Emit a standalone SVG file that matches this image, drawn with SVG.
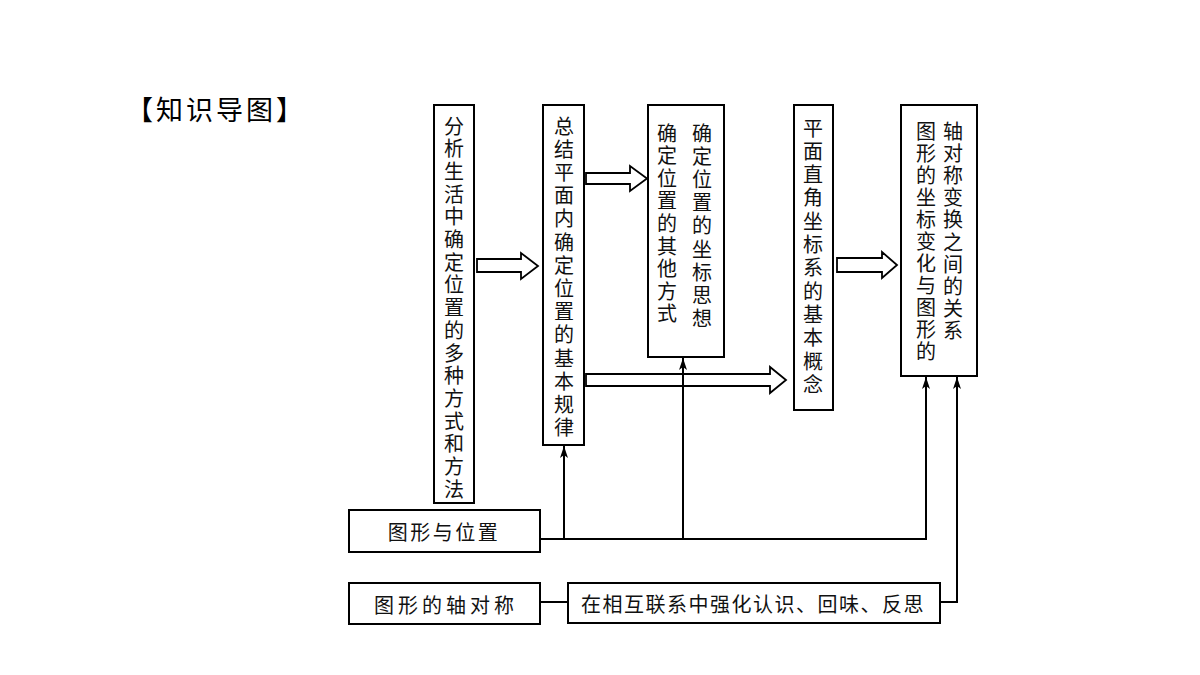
<svg xmlns="http://www.w3.org/2000/svg" width="1200" height="675" viewBox="0 0 1200 675">
<style>
  .box{fill:#fff;stroke:#000;stroke-width:2}
  .t{font-family:"Noto Sans CJK SC","Noto Sans",sans-serif;font-size:20px;fill:#111;text-anchor:middle;dominant-baseline:central}
  .ln{fill:none;stroke:#000;stroke-width:2}
  .hol{fill:#fff;stroke:#000;stroke-width:1.8;stroke-linejoin:miter}
  .title{font-family:"Noto Sans CJK SC","Noto Sans",sans-serif;font-size:27px;fill:#000}
</style>
<defs>
  <marker id="ah" markerUnits="userSpaceOnUse" viewBox="0 0 12 8" refX="12" refY="4" markerWidth="12" markerHeight="8" orient="auto">
    <path d="M0,0 L12,4 L0,8 L3,4 z" fill="#000"/>
  </marker>
</defs>
<rect width="1200" height="675" fill="#fff"/>
<text class="title" x="126" y="120" letter-spacing="3">【知识导图】</text>

<g id="connectors">
  <polygon class="hol" points="477,259 521,259 521,253 538,266 521,279 521,272 477,272"/>
  <polygon class="hol" points="586,173 630,173 630,166 647,178.5 630,191 630,184 586,184"/>
  <polygon class="hol" points="586,374 770,374 770,367 786,380 770,393 770,386 586,386"/>
  <polygon class="hol" points="837,258 882,258 882,252 897,265 882,278 882,272 837,272"/>
  <polyline class="ln" points="540,539 926,539 926,377" marker-end="url(#ah)"/>
  <line class="ln" x1="564" y1="539" x2="564" y2="446" marker-end="url(#ah)" stroke-width="2.5"/>
  <line class="ln" x1="683" y1="539" x2="683" y2="358" marker-end="url(#ah)"/>
  <line class="ln" x1="540" y1="602" x2="568" y2="602"/>
  <polyline class="ln" points="940,602 957,602 957,377" marker-end="url(#ah)" stroke-width="2.8"/>
</g>

<g id="n1">
  <rect class="box" x="434" y="105" width="40" height="398"/>
  <text class="t" x="454 454 454 454 454 454 454 454 454 454 454 454 454 454 454 454 454" y="125 147.7 170.4 193.1 215.8 238.5 261.2 283.9 306.6 329.3 352 374.7 397.4 420.1 442.8 465.5 488.2">分析生活中确定位置的多种方式和方法</text>
</g>
<g id="n2">
  <rect class="box" x="543" y="105" width="41" height="340"/>
  <text class="t" x="564 564 564 564 564 564 564 564 564 564 564 564 564 564" y="125 148.2 171.4 194.6 217.8 241 264.2 287.4 310.6 333.8 357 380.2 403.4 426.6">总结平面内确定位置的基本规律</text>
</g>
<g id="n3">
  <rect class="box" x="648" y="105" width="76" height="252"/>
  <text class="t" x="702 702 702 702 702 702 702 702 702" y="132 155.2 178.4 201.6 224.8 248 271.2 294.4 317.6">确定位置的坐标思想</text>
  <text class="t" x="667 667 667 667 667 667 667 667 667" y="132 154.6 177.2 199.8 222.4 245 267.6 290.2 312.8">确定位置的其他方式</text>
</g>
<g id="n4">
  <rect class="box" x="794" y="105" width="39" height="305"/>
  <text class="t" x="813 813 813 813 813 813 813 813 813 813 813 813" y="127 150.3 173.6 196.9 220.2 243.5 266.8 290.1 313.4 336.7 360 383.3">平面直角坐标系的基本概念</text>
</g>
<g id="n5">
  <rect class="box" x="901" y="105" width="76" height="271"/>
  <text class="t" x="926 926 926 926 926 926 926 926 926 926 926" y="130 152 174 196 218 240 262 284 306 328 350">图形的坐标变化与图形的</text>
  <text class="t" x="953 953 953 953 953 953 953 953 953 953" y="130 152.2 174.4 196.6 218.8 241 263.2 285.4 307.6 329.8">轴对称变换之间的关系</text>
</g>
<g id="n6">
  <rect class="box" x="349" y="510" width="191" height="42"/>
  <text class="t" x="444" y="531" letter-spacing="2.5">图形与位置</text>
</g>
<g id="n7">
  <rect class="box" x="349" y="583" width="191" height="41"/>
  <text class="t" x="446" y="604" letter-spacing="4">图形的轴对称</text>
</g>
<g id="n8">
  <rect class="box" x="568" y="583" width="372" height="40"/>
  <text class="t" x="753" y="603" font-size="21" letter-spacing="1.5">在相互联系中强化认识、回味、反思</text>
</g>
</svg>
